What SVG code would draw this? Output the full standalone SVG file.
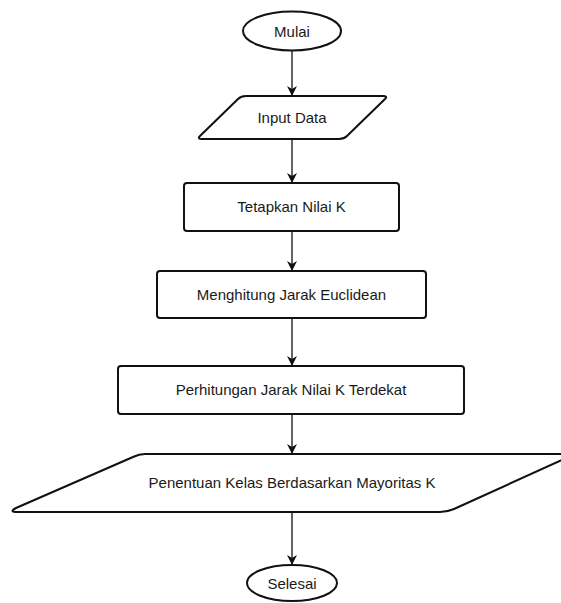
<svg xmlns="http://www.w3.org/2000/svg" width="561" height="603" viewBox="0 0 561 603">
<defs>
<marker id="arr" markerUnits="userSpaceOnUse" markerWidth="10" markerHeight="10" viewBox="0 0 10 10" refX="10" refY="5" orient="auto">
<path d="M0,0 L10,5 L0,10 L3,5 z" fill="#111"/>
</marker>
<style>
.s{fill:#fff;stroke:#111;stroke-width:2;stroke-linejoin:round}
.t{font-family:"Liberation Sans",Arial,sans-serif;font-size:15px;fill:#1a1a1a;text-anchor:middle}
.c{stroke:#222;stroke-width:1.4;fill:none}
</style>
</defs>
<rect width="561" height="603" fill="#fff"/>
<g id="connectors">
<line class="c" x1="292" y1="51" x2="292" y2="96" marker-end="url(#arr)"/>
<line class="c" x1="292" y1="139" x2="292" y2="183" marker-end="url(#arr)"/>
<line class="c" x1="292" y1="231" x2="292" y2="271" marker-end="url(#arr)"/>
<line class="c" x1="292" y1="318" x2="292" y2="366" marker-end="url(#arr)"/>
<line class="c" x1="292" y1="414" x2="292" y2="454" marker-end="url(#arr)"/>
<line class="c" x1="292" y1="512" x2="292" y2="565" marker-end="url(#arr)"/>
</g>
<g id="mulai">
<ellipse class="s" cx="292" cy="31" rx="49" ry="19.5"/>
<text class="t" x="292" y="36.5">Mulai</text>
</g>
<g id="input-data">
<path class="s" d="M246,96 L383,96 Q388,96 385,99 L347,136 Q344,139 339,139 L202,139 Q197,139 200,136 L238,99 Q241,96 246,96 Z"/>
<text class="t" x="292" y="123">Input Data</text>
</g>
<g id="tetapkan">
<rect class="s" x="184" y="183" width="215" height="48" rx="3"/>
<text class="t" x="291.5" y="212">Tetapkan Nilai K</text>
</g>
<g id="menghitung">
<rect class="s" x="157" y="271" width="269" height="47" rx="3"/>
<text class="t" x="291.5" y="299.5">Menghitung Jarak Euclidean</text>
</g>
<g id="perhitungan">
<rect class="s" x="118" y="366" width="346" height="48" rx="3"/>
<text class="t" x="291" y="395">Perhitungan Jarak Nilai K Terdekat</text>
</g>
<g id="penentuan">
<path class="s" d="M145,454 L575,454 L454,509 Q447,512 440,512 L18,512 Q8,512 16,508 L133,457 Q139,454 145,454 Z"/>
<text class="t" x="292" y="488">Penentuan Kelas Berdasarkan Mayoritas K</text>
</g>
<g id="selesai">
<ellipse class="s" cx="292" cy="583" rx="45" ry="18"/>
<text class="t" x="292" y="588.5">Selesai</text>
</g>
</svg>
